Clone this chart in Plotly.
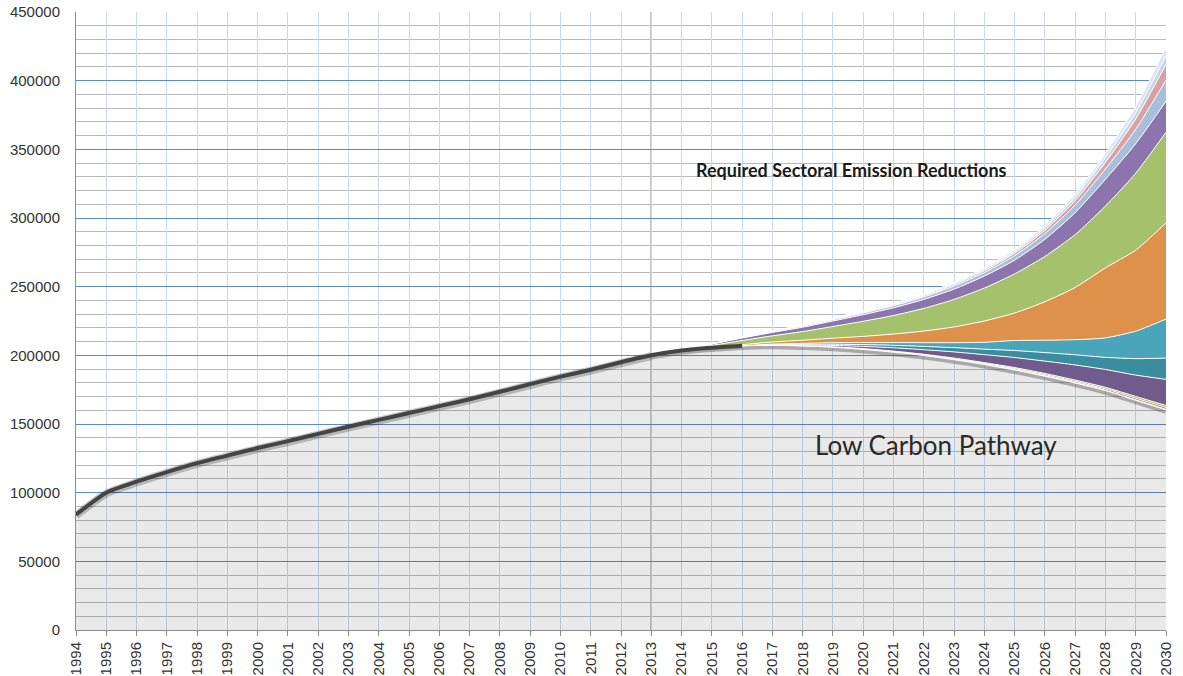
import numpy as np
import plotly.graph_objects as go

# historical emissions 1994-2013
hist_years = list(range(1994, 2014))
hist_values = [84000, 100000, 108000, 115000, 121500, 127000, 132500, 137500, 142800, 148000,
               153000, 158000, 163000, 168000, 173500, 179000, 184500, 189500, 195000, 200000]

# projection 2013-2030
proj_years = list(range(2013, 2031))
low_carbon = [200000, 203500, 205500, 207000, 207500, 207000, 206000, 204500, 202500, 200000,
              197000, 193500, 189500, 185000, 180000, 174500, 167500, 160500]

# sectoral reductions, stacked from the low carbon pathway upwards
red_thin = [0, 0, 0, 0, 0, 0, 100, 200, 300, 400, 500, 600, 800, 900, 1000, 1100, 1300, 1500]
green_thin = [0, 0, 0, 0, 0, 0, 100, 200, 300, 400, 500, 600, 800, 900, 1000, 1100, 1300, 1500]
dark_purple = [0, 0, 0, 0, 200, 500, 1000, 1600, 2400, 3300, 4500, 5800, 7300, 9000, 11000, 13000, 15500, 19000]
dark_teal = [0, 0, 0, 0, 200, 500, 900, 1300, 1800, 2400, 3100, 4000, 5100, 6200, 7400, 8800, 12000, 15500]
light_teal = [0, 0, 0, 0, 300, 700, 1100, 1500, 2000, 2700, 3600, 5000, 7300, 9000, 11000, 14200, 20000, 28400]
orange = [0, 0, 300, 800, 1500, 2300, 3300, 4500, 6200, 8500, 11500, 15500, 20000, 28000, 38000, 51000, 59000, 70000]
green = [0, 500, 1500, 3000, 4500, 6300, 8500, 11000, 13500, 16500, 20000, 24000, 28500, 33000, 38500, 45000, 56000, 66000]
purple = [0, 300, 1000, 1800, 2500, 3200, 4000, 4800, 5600, 6500, 7500, 8700, 10000, 12500, 16000, 19500, 21500, 22600]
light_blue = [0, 0, 100, 300, 500, 700, 900, 1200, 1500, 1800, 2200, 2600, 3200, 4200, 5500, 7500, 10500, 15300]
pink = [0, 0, 0, 100, 200, 300, 400, 500, 600, 800, 1000, 1300, 1700, 2300, 3200, 4800, 7500, 11600]
pale_1 = [0, 0, 0, 100, 200, 300, 400, 500, 600, 700, 900, 1100, 1400, 1800, 2400, 3300, 4500, 6000]
pale_2 = [0, 0, 0, 100, 200, 300, 400, 500, 600, 700, 900, 1100, 1400, 1800, 2400, 3300, 4600, 6400]

layers = [
    (red_thin, '#c0504d'),
    (green_thin, '#9bbb59'),
    (dark_purple, '#715a8c'),
    (dark_teal, '#3a8d9f'),
    (light_teal, '#4ba5ba'),
    (orange, '#de914a'),
    (green, '#a5c16c'),
    (purple, '#8b75ac'),
    (light_blue, '#a7bedd'),
    (pink, '#d9a29f'),
    (pale_1, '#c3d5ec'),
    (pale_2, '#dde7f3'),
]

split_year = 2013
y_ticks = list(range(0, 450001, 50000))

fig = go.Figure()

all_years = hist_years + proj_years[1:]
all_lcp = hist_values + low_carbon[1:]

# grey area under the low carbon pathway
fig.add_trace(go.Scatter(
    x=all_years, y=all_lcp, mode='lines',
    line=dict(width=0), fill='tozeroy', fillcolor='rgba(0,0,0,0.085)',
    hoverinfo='skip', showlegend=False,
))

# soft shadow under the projected pathway
fig.add_trace(go.Scatter(
    x=proj_years, y=[v - 900 for v in low_carbon], mode='lines',
    line=dict(color='rgba(90,90,90,0.45)', width=6, shape='spline', smoothing=0.6),
    hoverinfo='skip', showlegend=False,
))

# base of the stack
fig.add_trace(go.Scatter(
    x=proj_years, y=low_carbon, mode='lines',
    line=dict(color='white', width=1.5, shape='spline', smoothing=0.6),
    hoverinfo='skip', showlegend=False,
))

cum = np.array(low_carbon, dtype=float)
for vals, col in layers:
    cum = cum + np.array(vals, dtype=float)
    fig.add_trace(go.Scatter(
        x=proj_years, y=cum, mode='lines',
        line=dict(color='white', width=1, shape='spline', smoothing=0.6),
        fill='tonexty', fillcolor=col,
        hoverinfo='skip', showlegend=False,
    ))

# historical dark line with shadow
fig.add_trace(go.Scatter(
    x=hist_years, y=[v - 600 for v in hist_values], mode='lines',
    line=dict(color='rgba(0,0,0,0.22)', width=8, shape='spline', smoothing=0.6),
    hoverinfo='skip', showlegend=False,
))
fig.add_trace(go.Scatter(
    x=hist_years + proj_years[1:4], y=hist_values + low_carbon[1:4], mode='lines',
    line=dict(color='#444444', width=4, shape='spline', smoothing=0.6),
    hoverinfo='skip', showlegend=False,
))

fig.add_vline(x=split_year, line_color='#8c8c8c', line_width=1.5, layer='below')

fig.add_annotation(
    x=2019.6, y=335000, text='<b>Required Sectoral Emission Reductions</b>',
    showarrow=False, font=dict(family='Lato', size=18, color='#1a1a1a'),
)
fig.add_annotation(
    x=2022.4, y=134500, text='Low Carbon Pathway',
    showarrow=False, font=dict(family='Lato', size=26, color='#2a2a2a'),
)

fig.update_xaxes(
    range=[1994, 2030], tickmode='linear', tick0=1994, dtick=1,
    tickangle=-90, tickfont=dict(family='Liberation Sans', size=15, color='#333333'),
    showgrid=True, gridcolor='#c6d9f1', gridwidth=1,
    showline=True, linecolor='#8c8c8c', linewidth=1,
    ticks='outside', ticklen=5, tickcolor='#8c8c8c',
    zeroline=False, automargin=False,
)
fig.update_yaxes(
    range=[0, 450000], tickmode='array', tickvals=y_ticks,
    ticktext=[str(v) for v in y_ticks],
    tickfont=dict(family='Liberation Sans', size=15, color='#333333'),
    ticklabeloverflow='allow',
    showgrid=True, gridcolor='#5a8ccc', gridwidth=1,
    minor=dict(dtick=10000, showgrid=True, gridcolor='#b9b9b9', gridwidth=1),
    showline=True, linecolor='#8c8c8c', linewidth=1,
    ticks='outside', ticklen=12, tickcolor='rgba(0,0,0,0)',
    zeroline=False, automargin=False,
)
fig.update_layout(
    width=1183, height=676,
    margin=dict(l=76, r=17, t=12, b=46),
    plot_bgcolor='white', paper_bgcolor='white',
    showlegend=False,
)

# drop the default page margin so the figure fills the window exactly
fig.write_html(
    "out.html",
    config={'displayModeBar': False},
    post_script="document.body.style.margin='0px';",
)
